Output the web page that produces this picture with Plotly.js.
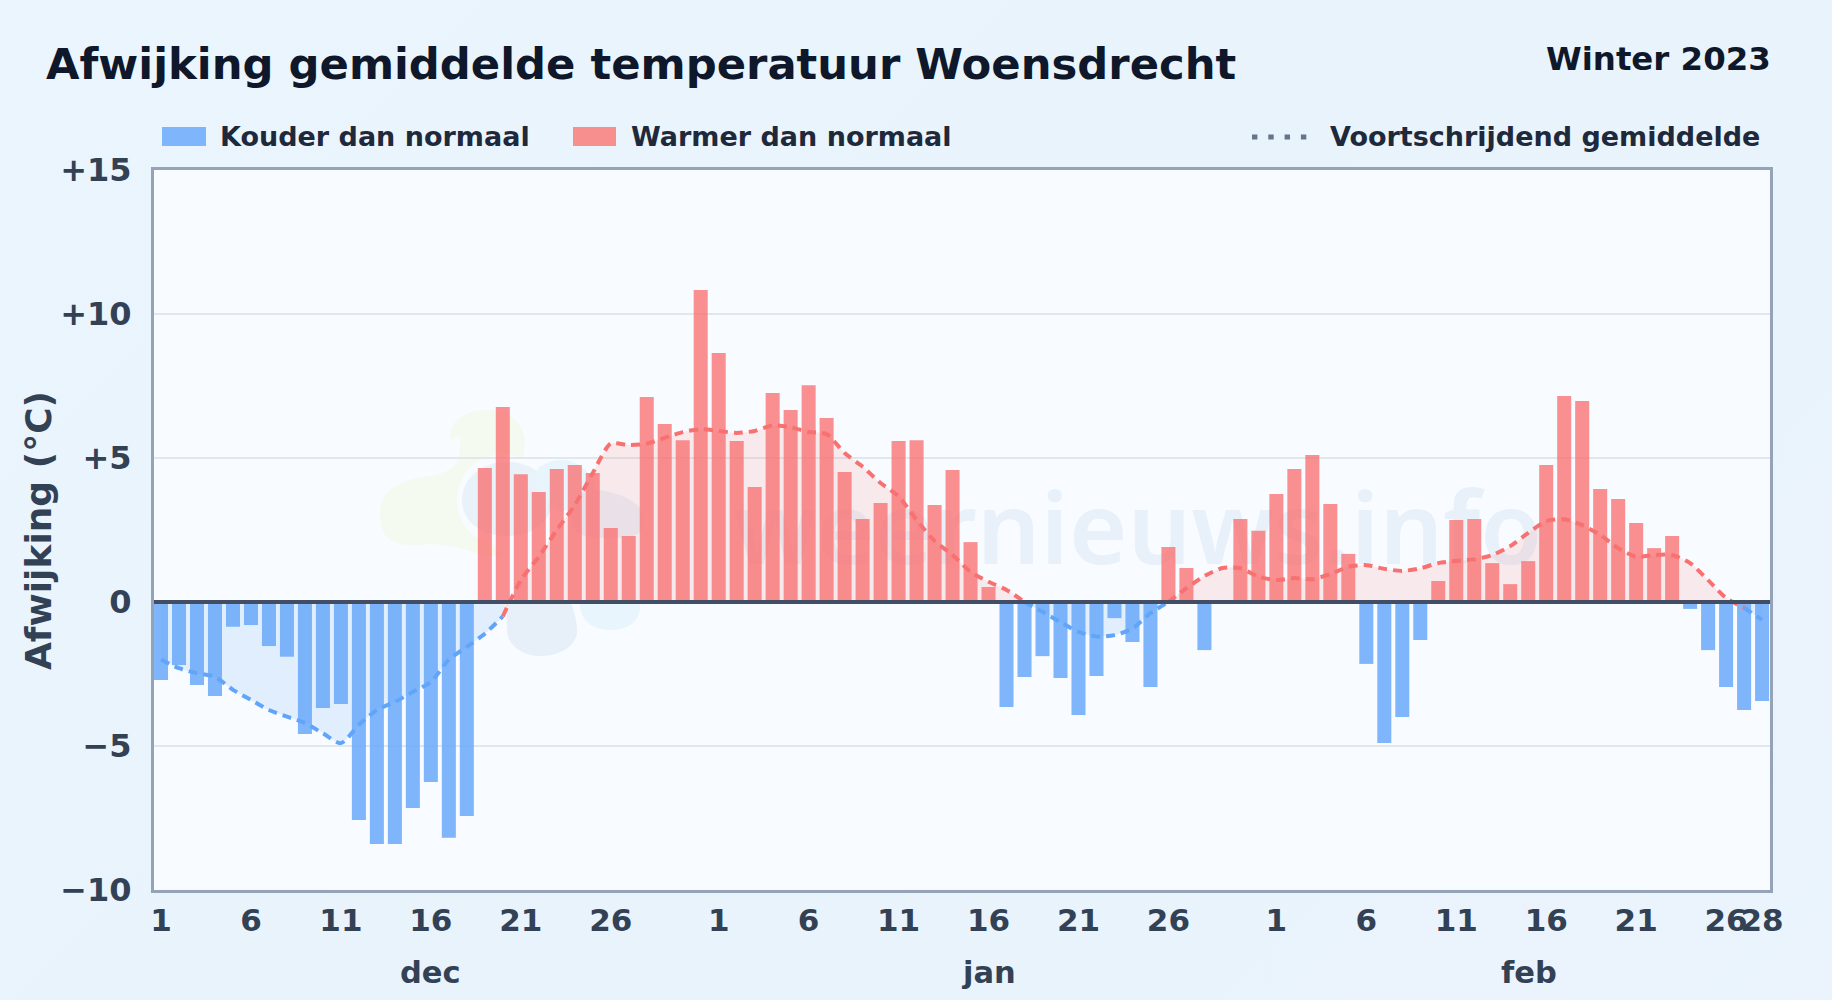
<!DOCTYPE html>
<html>
<head>
<meta charset="utf-8">
<script src="https://cdn.plot.ly/plotly-3.0.1.min.js"></script>
<style>
html,body{margin:0;padding:0;width:1832px;height:1000px;overflow:hidden;background:linear-gradient(135deg,#eaf5fe 0%,#e8f3fc 50%,#ebf4fd 100%);}
#chart{width:1832px;height:1000px;}
</style>
</head>
<body>
<div id="chart"></div>
<script>
const dayLabels = [1,2,3,4,5,6,7,8,9,10,11,12,13,14,15,16,17,18,19,20,21,22,23,24,25,26,27,28,29,30,31,
  1,2,3,4,5,6,7,8,9,10,11,12,13,14,15,16,17,18,19,20,21,22,23,24,25,26,27,28,29,30,31,
  1,2,3,4,5,6,7,8,9,10,11,12,13,14,15,16,17,18,19,20,21,22,23,24,25,26,27,28];
const tickIndex = [0,5,10,15,20,25,31,36,41,46,51,56,62,67,72,77,82,87,89];
const deviation = [-2.71,-2.19,-2.88,-3.26,-0.86,-0.80,-1.53,-1.90,-4.58,-3.68,-3.54,-7.57,-8.40,-8.40,-7.15,-6.25,-8.19,-7.43,
  4.65,6.77,4.44,3.82,4.62,4.76,4.48,2.57,2.29,7.12,6.18,5.62,10.83,
  8.65,5.59,3.99,7.26,6.67,7.53,6.39,4.51,2.88,3.44,5.59,5.62,3.37,4.58,2.08,0.52,
  -3.65,-2.60,-1.88,-2.64,-3.92,-2.57,-0.56,-1.39,-2.95,1.91,1.18,-1.67,0,2.88,2.47,
  3.75,4.62,5.10,3.40,1.67,-2.15,-4.90,-3.99,-1.32,0.73,2.85,2.88,1.35,0.62,1.42,4.76,7.15,6.98,3.92,3.58,2.74,1.87,2.29,
  -0.24,-1.67,-2.95,-3.75,-3.44];
const rolling = [-2.0,-2.3,-2.47,-2.6,-3.05,-3.4,-3.75,-3.98,-4.2,-4.56,-4.9,-4.27,-3.75,-3.47,-3.12,-2.78,-2.0,-1.56,-1.1,-0.5,
  0.76,1.57,2.5,3.37,4.48,5.5,5.45,5.5,5.7,5.9,6.0,5.94,5.87,5.94,6.13,6.07,5.9,5.83,5.17,4.7,4.13,3.67,2.85,2.12,1.63,1.05,0.7,0.42,0,
  -0.34,-0.7,-1.04,-1.2,-1.15,-0.92,-0.39,0,0.48,0.9,1.18,1.17,0.88,0.76,0.83,0.79,0.97,1.22,1.28,1.15,1.08,1.17,1.35,1.43,1.48,1.63,1.94,2.4,2.81,2.87,2.67,2.33,1.87,1.57,1.63,1.63,1.35,0.76,0.14,-0.2,-0.62];
const monthNames = ['dec','jan','feb'];
const monthCentres = [15,46,76.05];
const yTicks = [-10,-5,0,5,10,15];
const yTickText = ['\u221210','\u22125','0','+5','+10','+15'];
const titleText = 'Afwijking gemiddelde temperatuur Woensdrecht';
const seasonText = 'Winter 2023';
const legendLabels = ['Kouder dan normaal','Warmer dan normaal','Voortschrijdend gemiddelde'];
const yAxisLabel = 'Afwijking (\u00b0C)';

const W = 1832, H = 1000;
const M = {l:154, r:62, t:170, b:110};
const px = x => (x - M.l) / (W - M.l - M.r);
const py = y => 1 - (y - M.t) / (H - M.t - M.b);
const xs = deviation.map((_, i) => i);

const blue = 'rgb(96,165,250)', red = 'rgb(248,113,113)';
const blueBar = 'rgba(96,165,250,0.8)', redBar = 'rgba(248,113,113,0.78)';

// Split the rolling mean into contiguous runs: a segment is red when one of its ends is above zero.
const runs = [];
for (let i = 0; i < rolling.length - 1; i++) {
  const kind = (rolling[i] > 0 || rolling[i + 1] > 0) ? 'red' : 'blue';
  const last = runs[runs.length - 1];
  if (last && last.kind === kind) last.end = i + 1;
  else runs.push({kind, start:i, end:i + 1});
}

const wm = `<svg xmlns="http://www.w3.org/2000/svg" width="1616" height="720" viewBox="154 170 1616 720">
<g>
<path fill="#f4faef" d="M450 440c0-25 20-30 40-30 25 0 38 20 34 40-3 20-14 32-4 46l-20 60c-20 2-40-12-70-12-30 4-50 0-50-30 0-25 20-34 50-38 25-4 32-14 30-40z"/>
<circle cx="503" cy="500" r="46" fill="#f8fbff"/>
<path fill="#e9f1f9" d="M462 500c0-22 20-38 45-38s45 16 45 38-20 36-45 36-45-14-45-36z"/>
<path fill="#e9f5fd" d="M537 470c8-10 25-12 36-8 14 6 26 18 18 40l-30 10c-14-8-32-22-24-42z"/>
<path fill="#e9f1f9" d="M600 490c14 2 44 10 44 30s-20 18-44 18-30-10-30-24 14-26 30-24z"/>
<path fill="#e7f0f8" d="M507 603h64c5 12 6 22 6 28 0 14-16 25-36 25s-34-12-34-26c0-8-1-18 0-27z"/>
<path fill="#e9f5fd" d="M580 603h60c2 14-8 27-30 27s-30-14-30-27z"/>
<text x="1542" y="564" text-anchor="end" font-family="Noto Sans, Open Sans" font-weight="600" font-size="100" fill="#2f6fb8" fill-opacity="0.08">weernieuws.info</text>
</g></svg>`;

const traces = [
  {type:'bar', x:xs, y:deviation.map(v => v < 0 ? v : null), width:0.78, marker:{color:blueBar, line:{width:0}}, name:legendLabels[0], showlegend:false, hoverinfo:'skip'},
  {type:'bar', x:xs, y:deviation.map(v => v > 0 ? v : null), width:0.78, marker:{color:redBar, line:{width:0}}, name:legendLabels[1], showlegend:false, hoverinfo:'skip'}
].concat(runs.map(r => ({
  type:'scatter', mode:'lines',
  x:xs.slice(r.start, r.end + 1), y:rolling.slice(r.start, r.end + 1),
  line:{color:r.kind === 'red' ? red : blue, width:4, dash:'9px,6px', shape:'spline', smoothing:0.7},
  fill:'tozeroy', fillcolor:r.kind === 'red' ? 'rgba(248,113,113,0.13)' : 'rgba(96,165,250,0.15)',
  name:legendLabels[2], showlegend:false, hoverinfo:'skip'
})));

const annot = (text, x, y, size, color, anchor, extra) => Object.assign({
  text, x:px(x), y:py(y), xref:'paper', yref:'paper', showarrow:false, xanchor:anchor, yanchor:'middle',
  font:{family:'DejaVu Sans', size, color}
}, extra || {});

const annotations = [
  annot('<b>'+titleText+'</b>', 44, 64, 43.3, '#0f172a', 'left'),
  annot('<b>'+seasonText+'</b>', 1773, 59, 32.4, '#0f172a', 'right'),
  annot('<b>'+legendLabels[0]+'</b>', 218, 137, 27, '#1e293b', 'left'),
  annot('<b>'+legendLabels[1]+'</b>', 629, 137, 27, '#1e293b', 'left'),
  annot('<b>'+legendLabels[2]+'</b>', 1328, 137, 27, '#1e293b', 'left'),
  annot('<b>'+yAxisLabel+'</b>', 38, 531, 36, '#334155', 'center', {textangle:-90}),
].concat(monthNames.map((m, i) => ({
  text:'<b>'+m+'</b>', x:monthCentres[i], xref:'x', y:py(972), yref:'paper', showarrow:false, xanchor:'center', yanchor:'middle',
  font:{family:'DejaVu Sans', size:30.5, color:'#334155'}
})));

const shapes = [
  {type:'rect', xref:'paper', yref:'paper', x0:px(162), x1:px(206), y0:py(127), y1:py(146), fillcolor:'rgb(127,182,251)', line:{width:0}},
  {type:'rect', xref:'paper', yref:'paper', x0:px(573), x1:px(616), y0:py(127), y1:py(146), fillcolor:'rgb(248,143,143)', line:{width:0}},
  {type:'line', xref:'paper', yref:'paper', x0:px(1252), x1:px(1307), y0:py(137), y1:py(137), line:{color:'#64748b', width:5, dash:'5.4px,10.9px'}},
  {type:'line', xref:'paper', yref:'y', x0:0, x1:1, y0:0, y1:0, layer:'above', line:{color:'#414e63', width:4}}
];

const layout = {
  width:W, height:H, margin:M,
  paper_bgcolor:'rgba(0,0,0,0)', plot_bgcolor:'#f8fbff',
  barmode:'overlay', showlegend:false, font:{family:'DejaVu Sans', color:'#334155'},
  xaxis:{range:[-0.39,89.44], tickmode:'array', tickvals:tickIndex, ticktext:tickIndex.map(i => '<b>'+dayLabels[i]+'</b>'),
    tickangle:0, showgrid:false, zeroline:false, showline:true, mirror:true, linecolor:'#94a3b8', linewidth:3,
    ticks:'outside', ticklen:1, tickcolor:'rgba(0,0,0,0)', tickfont:{size:31, color:'#334155'}},
  yaxis:{range:[-10,15], tickmode:'array', tickvals:yTicks, ticktext:yTickText.map(t => '<b>'+t+'</b>'),
    showgrid:true, gridcolor:'#e0e8ec', gridwidth:2, zeroline:false, showline:true, mirror:true, linecolor:'#94a3b8', linewidth:3,
    ticks:'outside', ticklen:13, tickcolor:'rgba(0,0,0,0)', tickfont:{size:32, color:'#334155'}},
  annotations, shapes,
  images:[{source:'data:image/svg+xml;charset=utf-8,'+encodeURIComponent(wm), xref:'paper', yref:'paper', x:0, y:1, sizex:1, sizey:1, sizing:'stretch', xanchor:'left', yanchor:'top', layer:'below'}]
};
Plotly.newPlot('chart', traces, layout, {displayModeBar:false, staticPlot:true});
</script>
</body>
</html>
